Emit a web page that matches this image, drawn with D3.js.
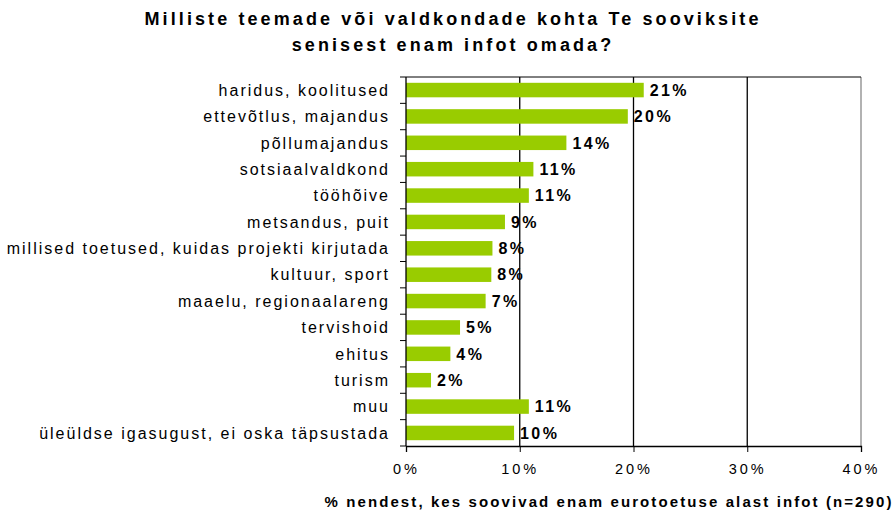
<!DOCTYPE html>
<html>
<head>
<meta charset="utf-8">
<script src="https://cdn.jsdelivr.net/npm/d3@7"></script>
<style>
  body { margin: 0; background: #fff; }
  text { font-family: "Liberation Sans", Arial, sans-serif; }
</style>
</head>
<body>
<div id="vis"></div>
<script>
// chart data
const categories = [
  "haridus, koolitused",
  "ettevõtlus, majandus",
  "põllumajandus",
  "sotsiaalvaldkond",
  "tööhõive",
  "metsandus, puit",
  "millised toetused, kuidas projekti kirjutada",
  "kultuur, sport",
  "maaelu, regionaalareng",
  "tervishoid",
  "ehitus",
  "turism",
  "muu",
  "üleüldse igasugust, ei oska täpsustada"
];
const values = [20.9, 19.5, 14.1, 11.2, 10.8, 8.7, 7.6, 7.5, 7.0, 4.75, 3.9, 2.2, 10.8, 9.5];
const valueLabels = ["21%", "20%", "14%", "11%", "11%", "9%", "8%", "8%", "7%", "5%", "4%", "2%", "11%", "10%"];
const xTicks = [0, 10, 20, 30, 40];
const titleLines = ["Milliste teemade või valdkondade kohta Te sooviksite", "senisest enam infot omada?"];
const xTitle = "% nendest, kes soovivad enam eurotoetuse alast infot (n=290)";

const W = 896, H = 510;
const margin = { top: 77, right: 35, bottom: 64, left: 406 };
const width = W - margin.left - margin.right;
const height = H - margin.top - margin.bottom;

const root = d3.select("#vis").append("svg")
  .attr("width", W).attr("height", H);

// title
root.append("g").selectAll("text")
  .data(titleLines)
  .join("text")
    .attr("x", 453)
    .attr("y", (d, i) => 25 + i * 26)
    .attr("text-anchor", "middle")
    .style("font-size", "18px")
    .style("font-weight", "bold")
    .style("letter-spacing", "3.1px")
    .text(d => d);

const svg = root.append("g")
  .attr("transform", `translate(${margin.left}, ${margin.top})`);

const xScale = d3.scaleLinear().domain([0, 40]).range([0, width]);
const yScale = d3.scaleBand().domain(categories).range([0, height]).paddingInner(0.45).paddingOuter(0.22);

// grid lines
svg.append("g").selectAll("line")
  .data(xTicks.slice(1))
  .join("line")
    .attr("x1", d => xScale(d)).attr("x2", d => xScale(d))
    .attr("y1", 0).attr("y2", height)
    .attr("stroke", d => d === 40 ? "#999" : "#000")
    .attr("stroke-width", d => d === 40 ? 1.5 : 1.3);

// top border
svg.append("line")
  .attr("x1", 0).attr("x2", width)
  .attr("y1", 0).attr("y2", 0)
  .attr("stroke", "#000").attr("stroke-width", 1);

// bars
svg.append("g").selectAll("rect")
  .data(categories)
  .join("rect")
    .attr("x", 0)
    .attr("y", d => yScale(d))
    .attr("width", (d, i) => xScale(values[i]))
    .attr("height", yScale.bandwidth())
    .attr("fill", "#99CC00");

// value labels
svg.append("g").selectAll("text")
  .data(categories)
  .join("text")
    .attr("x", (d, i) => xScale(values[i]) + 6)
    .attr("y", d => yScale(d) + yScale.bandwidth() / 2)
    .attr("dy", "0.36em")
    .style("font-size", "16px")
    .style("font-weight", "bold")
    .style("letter-spacing", "2.4px")
    .text((d, i) => valueLabels[i]);

// y axis with ticks on band boundaries
const boundaries = d3.range(categories.length + 1).map(i => i * height / categories.length);
const yAxis = svg.append("g");
yAxis.append("line")
  .attr("x1", 0).attr("x2", 0).attr("y1", 0).attr("y2", height)
  .attr("stroke", "#000").attr("stroke-width", 1.3);
yAxis.selectAll("line.tick")
  .data(boundaries)
  .join("line")
    .attr("class", "tick")
    .attr("x1", -6).attr("x2", 0)
    .attr("y1", d => d).attr("y2", d => d)
    .attr("stroke", "#000");
yAxis.selectAll("text")
  .data(categories)
  .join("text")
    .attr("x", -16)
    .attr("y", d => yScale(d) + yScale.bandwidth() / 2)
    .attr("dy", "0.36em")
    .attr("text-anchor", "end")
    .style("font-size", "16px")
    .style("letter-spacing", "2px")
    .text(d => d);

// x axis
svg.append("g")
  .attr("transform", `translate(0, ${height})`)
  .call(d3.axisBottom(xScale).tickValues(xTicks).tickFormat(d => d + "%").tickSize(6).tickPadding(12))
  .call(g => g.select(".domain").attr("stroke-width", 1.3))
  .call(g => g.selectAll("text").style("font-size", "14.5px").style("letter-spacing", "3px")
    .style("font-family", "'Liberation Sans', Arial, sans-serif").attr("fill", "#000"));

// x title
root.append("text")
  .attr("x", 609)
  .attr("y", 507)
  .attr("text-anchor", "middle")
  .style("font-size", "15px")
  .style("font-weight", "bold")
  .style("letter-spacing", "2.1px")
  .text(xTitle);
</script>
</body>
</html>
